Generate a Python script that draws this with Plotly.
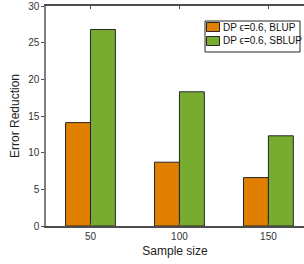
import plotly.graph_objects as go

sample_sizes = [50, 100, 150]
blup = [14.1, 8.7, 6.6]
sblup = [26.8, 18.3, 12.3]
names = ["DP \u03f5=0.6, BLUP", "DP \u03f5=0.6, SBLUP"]
colors = ["#E07F00", "#77AC30"]

W, H = 304, 264
L, R, T, B = 46, 0, 6, 38
pw, ph = W - L - R, H - T - B

def px(x):
    return (x - L) / pw

def py(y):
    return (H - B - y) / ph

fig = go.Figure()
for vals, name, col in zip([blup, sblup], names, colors):
    fig.add_trace(go.Bar(
        x=sample_sizes, y=vals, name=name,
        marker=dict(color=col, line=dict(color="#262626", width=1)),
    ))

# custom compact legend (matching the reference's MATLAB-style box)
shapes = [dict(type="rect", xref="paper", yref="paper",
               x0=px(205), x1=px(300), y0=py(52), y1=py(21),
               line=dict(color="#262626", width=1), fillcolor="white", layer="above")]
annotations = []
for i, (name, col) in enumerate(zip(names, colors)):
    top = 22.5 + i * 14
    shapes.append(dict(type="rect", xref="paper", yref="paper",
                       x0=px(206.5), x1=px(219.5), y0=py(top + 9), y1=py(top),
                       line=dict(color="#262626", width=1), fillcolor=col, layer="above"))
    annotations.append(dict(xref="paper", yref="paper", x=px(221), y=py(top + 4.5),
                            xanchor="left", yanchor="middle", text=name, showarrow=False,
                            font=dict(size=10, color="#111111")))

font = "Liberation Sans, Arial, Helvetica, sans-serif"
fig.update_layout(
    width=W, height=H,
    margin=dict(l=L, r=R, t=T, b=B),
    barmode="group", bargap=0.44, bargroupgap=0,
    plot_bgcolor="white", paper_bgcolor="white",
    font=dict(family=font, size=10, color="#333333"),
    showlegend=False,
    shapes=shapes, annotations=annotations,
    xaxis=dict(
        range=[25, 170], tickvals=sample_sizes, ticktext=[str(s) for s in sample_sizes],
        showline=True, linecolor="#4d4d4d", linewidth=1.5, mirror="ticks",
        ticks="inside", ticklen=3, tickcolor="#4d4d4d",
        showgrid=False, zeroline=False,
        title=dict(text="Sample size", font=dict(size=12, color="#222222"), standoff=6),
    ),
    yaxis=dict(
        range=[0, 30], dtick=5,
        showline=True, linecolor="#7f7f7f", linewidth=1.5,
        ticks="outside", ticklen=3, tickcolor="#4d4d4d",
        showgrid=False, zeroline=False, ticklabeloverflow="allow",
        title=dict(text="Error Reduction", font=dict(size=12, color="#222222"), standoff=6),
    ),
)

fig.write_html("out.html", config={"displayModeBar": False},
               post_script="document.body.style.margin='0';document.body.style.padding='0';")
